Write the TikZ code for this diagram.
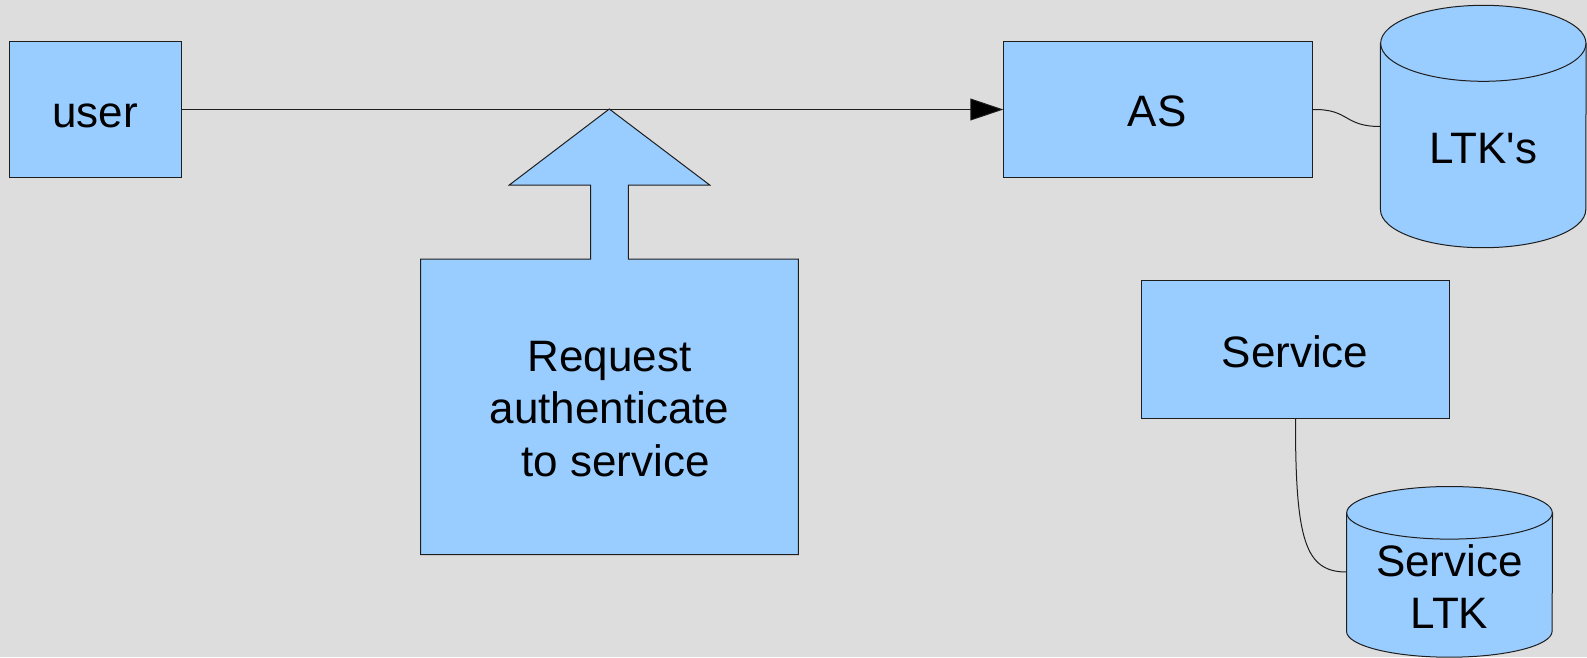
\documentclass[tikz,border=0pt]{standalone}
\usepackage{fontspec}
\setmainfont{Liberation Sans}
\usetikzlibrary{arrows.meta}

\definecolor{bgcol}{RGB}{221,221,221}
\definecolor{boxcol}{RGB}{153,204,255}
\definecolor{linecol}{RGB}{30,30,30}

\begin{document}
\begin{tikzpicture}[x=1pt,y=-1pt,
  every node/.style={font=\fontsize{44}{52.2}\selectfont, inner sep=0pt},
  block/.style={draw=linecol, fill=boxcol, line width=1pt},
  plainbox/.style={block, rectangle, anchor=north west},
  link/.style={draw=linecol, line width=1pt},
  lbl/.style={anchor=base, text=black},
]
% canvas
\fill[bgcol] (0,0) rectangle (1587,657);
\useasboundingbox (0,0) rectangle (1587,657);

% plain boxes
\node[plainbox, minimum width=171.7pt, minimum height=136.6pt] (user) at (9.3,40.7) {};
\node[plainbox, minimum width=308.7pt, minimum height=136.6pt] (as) at (1003.3,40.7) {};
\node[plainbox, minimum width=308.6pt, minimum height=137.4pt] (service) at (1140.7,280.3) {};

\node[lbl] (usertext) at (95,127.7) {user};
\node[lbl] (astext) at (1157,126.7) {AS};
\node[lbl] (servicetext) at (1295,367.3) {Service};

% block arrow with its request box
\path[block] (420.7,259) -- (590.7,259) -- (590.7,185) -- (509.3,185)
  -- (609.3,109) -- (709.7,185) -- (628.3,185) -- (628.3,259)
  -- (798.3,259) -- (798.3,554.6) -- (420.7,554.6) -- cycle;
\coordinate (reqtip) at (609.3,109);
\node[align=center] (req) at (609.5,409) {Request\\authenticate\\\ to service};

% LTK's store
\node[minimum width=205.3pt, minimum height=166pt] (ltk) at (1483.3,126.5) {};
\path[block] (ltk.north west) -- (ltk.south west)
  arc[start angle=180, end angle=0, x radius=102.65, y radius=38]
  -- (ltk.north east) -- cycle;
\path[block] (ltk.north) ellipse[x radius=102.65, y radius=38];
\node[lbl] (ltktext) at (1483.3,163.3) {LTK\textquotesingle s};

% service LTK store
\node[minimum width=205.6pt, minimum height=118pt] (sltk) at (1449.5,572) {};
\path[block] (sltk.north west) -- (sltk.south west)
  arc[start angle=180, end angle=0, x radius=102.8, y radius=26]
  -- (sltk.north east) -- cycle;
\path[block] (sltk.north) ellipse[x radius=102.8, y radius=26.3];
\node[align=center] (sltktext) at (1449.5,586.4) {Service\\LTK};

% connectors
\draw[link, -{Triangle[length=33pt, width=22pt, fill=black]}] (user.east) -- (as.west);
\draw[link] (as.east) .. controls (1350,109) and (1343,126.5) .. (ltk.west);
\draw[link] (service.south) .. controls (1295.3,540) and (1305,572) .. (sltk.west);
\end{tikzpicture}
\end{document}
